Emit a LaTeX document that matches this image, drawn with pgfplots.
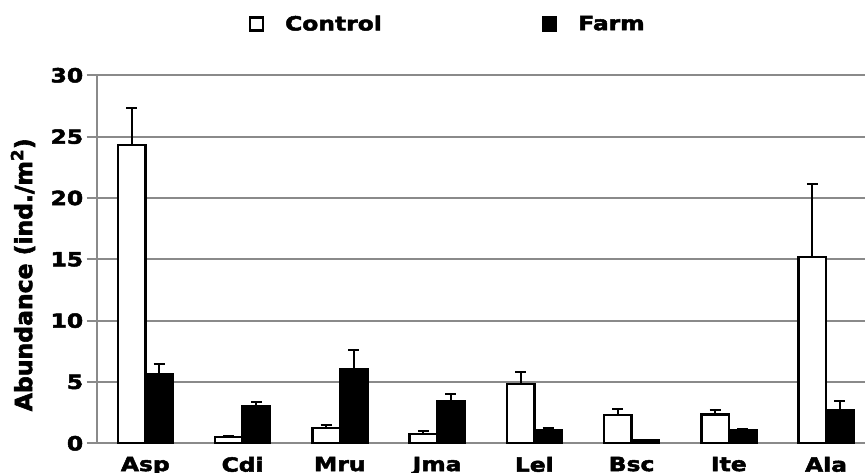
\documentclass[border=0pt]{standalone}
\usepackage{fontspec}
\usepackage{pgfplots}
\pgfplotsset{compat=1.18}
\newfontfamily\wide{DejaVu Sans}[FakeStretch=1.2, FakeBold=2.5]
\newfontfamily\plainsans{DejaVu Sans}[FakeBold=2.5]
\definecolor{gridgray}{RGB}{138,138,138}

\begin{document}
\begin{tikzpicture}
\begin{axis}[
    name=ax,
    scale only axis,
    width=778pt, height=368pt,
    xmin=-0.5, xmax=7.5,
    ymin=0, ymax=30,
    ybar=0pt, bar width=27.5pt,
    axis x line*=bottom, axis y line*=left,
    axis line style={gridgray, line width=2pt},
    ytick={0,5,...,30},
    ymajorgrids,
    grid style={gridgray, line width=2pt},
    ytick style={gridgray, line width=2pt},
    major tick length=10pt, tick align=outside,
    xtick={0,...,7},
    xticklabels={Asp,Cdi,Mru,Jma,Lel,Bsc,Ite,Ala},
    xtick style={draw=none},
    /pgf/number format/assume math mode=true,
    tick label style={font=\wide\bfseries\fontsize{19.5}{22}\selectfont},
    ylabel={Abundance (ind./m\textsuperscript{2})},
    ylabel style={font=\plainsans\bfseries\fontsize{23.5}{26}\selectfont,
        at={(axis description cs:-0.0947,0.458)}, anchor=center},
    legend columns=2,
    legend image code/.code={\draw[#1] (0.5pt,-6.5pt) rectangle (13.5pt,6.5pt);},
    legend style={draw=none, fill=none, at={(axis description cs:0.195,1.14)},
        anchor=west, inner sep=0pt, nodes={inner sep=0pt},
        font=\wide\bfseries\fontsize{19.5}{22}\selectfont,
        /tikz/every odd column/.append style={column sep=21pt},
        /tikz/every even column/.append style={column sep=160pt}},
]
% Control
\addplot[draw=black, fill=white, line width=2.5pt,
    error bars/.cd, y dir=plus, y explicit,
    error bar style={line width=2pt, black},
    error mark options={black, line width=2pt, mark size=5.5pt, rotate=90}]
coordinates {
    (0,24.3) +- (0,3.0)
    (1,0.50) +- (0,0.13)
    (2,1.25) +- (0,0.21)
    (3,0.75) +- (0,0.25)
    (4,4.85) +- (0,0.97)
    (5,2.30) +- (0,0.49)
    (6,2.33) +- (0,0.35)
    (7,15.2) +- (0,5.9)
};
\addlegendentry{Control}
% Farm
\addplot[draw=black, fill=black, line width=2.5pt,
    error bars/.cd, y dir=plus, y explicit,
    error bar style={line width=2pt, black},
    error mark options={black, line width=2pt, mark size=5.5pt, rotate=90}]
coordinates {
    (0,5.65) +- (0,0.84)
    (1,3.00) +- (0,0.35)
    (2,6.03) +- (0,1.55)
    (3,3.42) +- (0,0.61)
    (4,1.05) +- (0,0.19)
    (5,0.22) +- (0,0.08)
    (6,1.05) +- (0,0.08)
    (7,2.72) +- (0,0.75)
};
\addlegendentry{Farm}
\end{axis}
\pgfresetboundingbox
\path[use as bounding box] ([shift={(-96.7pt,-28.7pt)}]ax.south west)
    rectangle ([shift={(768.3pt,443.3pt)}]ax.south west);
\end{tikzpicture}
\end{document}
